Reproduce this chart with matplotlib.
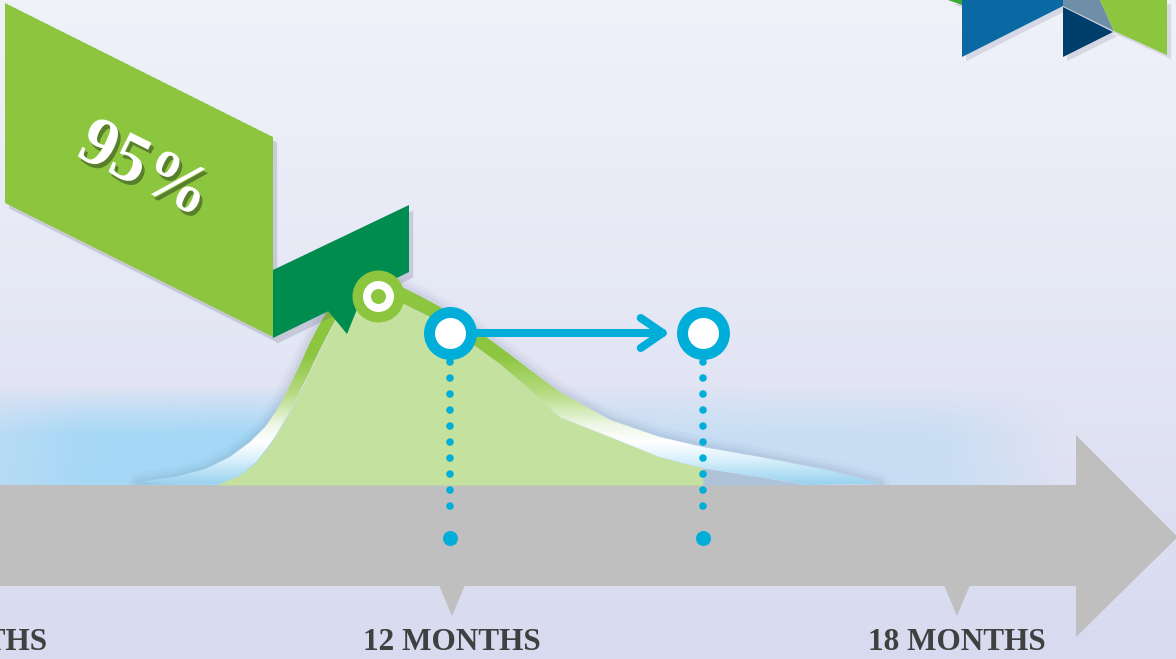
import numpy as np
import matplotlib
matplotlib.use("Agg")
import matplotlib.pyplot as plt
from matplotlib.patches import Polygon
from matplotlib.transforms import Affine2D
from matplotlib.colors import to_rgb
import matplotlib.patheffects as pe

# ---------------- data ----------------
tick_months = [6, 12, 18]
label_months = [6.23, 12.0, 18.0]
tick_labels = ["6 MONTHS", "12 MONTHS", "18 MONTHS"]

peak_month = 11.12
peak_value = 94.5
peak_label = "95%"

marker_months = [11.98, 14.98]
marker_value = 76.0
fill_end_month = 14.98

# upper (outer) edge of the curve ribbon: month, level
outer_m = [8.28, 8.71, 9.07, 9.36, 9.60, 9.78, 9.92, 10.03, 10.13, 10.22, 10.31,
           10.41, 10.52, 10.63, 10.79, 10.97, 11.14, 11.38, 11.62, 11.86, 12.21,
           12.57, 12.93, 13.28, 13.88, 14.47, 14.98, 15.66, 16.46, 17.09]
outer_v = [1.5, 4, 8, 14, 21.5, 29, 37.5, 46, 54.5, 62.5, 71,
           79, 87.5, 94.5, 99, 101.5, 102.5, 99.5, 94.5, 89, 80,
           69, 57.5, 46.5, 32.5, 24, 19, 14, 7.5, 1]
# lower (inner) edge of the ribbon = top of the filled area
inner_m = [9.22, 9.48, 9.67, 9.81, 9.91, 10.00, 10.10, 10.19, 10.29, 10.37, 10.47,
           10.57, 10.67, 10.79, 10.97, 11.14, 11.38, 11.62, 11.86, 12.21, 12.57,
           12.93, 13.28, 13.88, 14.47, 14.98, 15.66, 16.25]
inner_v = [0.5, 5, 11.5, 19, 25, 31.5, 39, 47, 55, 62.5, 71,
           79, 86.5, 91.5, 94, 94.5, 91.5, 86.5, 81.5, 71.5, 60.5,
           47.5, 34, 24, 14, 8.5, 4, 0]

# ---------------- layout helpers ----------------
W, H = 1176, 659
PPM = 505 / 6.0          # pixels per month
X0 = 12 - 452 / PPM
X1 = 12 + (W - 452) / PPM
Y0 = (485 - H) / 2.0
Y1 = 485 / 2.0

def lv(py):
    return (485 - py) / 2.0

def mo(px):
    return 12 + (px - 452) / PPM

GREEN = "#8cc63f"
DKGREEN = "#008b4f"
BLUE = "#00aed9"
FILL = "#c5e19f"
GREY = "#bfbfbf"

fig = plt.figure(figsize=(W / 100, H / 100), dpi=100)
ax = fig.add_axes([0, 0, 1, 1])
ax.set_axis_off()
pix = Affine2D().scale(1, -1).translate(0, H)

# background gradient
rows = np.linspace(0, 1, 200)[:, None]
top = np.array(to_rgb("#f0f2fa"))
bot = np.array(to_rgb("#d8dbef"))
bg = (bot * (1 - rows) + top * rows)[:, None, :].repeat(2, axis=1)
ax.imshow(bg, extent=[X0, X1, Y0, Y1], origin="lower", aspect="auto", zorder=0,
          interpolation="bicubic")

# light blue glow behind the curve
gx = np.linspace(X0, X1, 400)
gy = np.linspace(0, 50, 120)
ax_prof = np.interp(gx, [X0, mo(80), mo(250), mo(600), mo(950), mo(1060), X1],
                    [0.65, 0.95, 1.0, 0.45, 0.35, 0.0, 0.0])
ay_prof = np.interp(gy, [0, 25, 37, 50], [1.0, 1.0, 0.55, 0.0])
alpha = ay_prof[:, None] * ax_prof[None, :]
glow = np.zeros((len(gy), len(gx), 4))
glow[..., :3] = to_rgb("#a3d8f7")
glow[..., 3] = alpha
ax.imshow(glow, extent=[X0, X1, 0, 50], origin="lower", aspect="auto", zorder=1,
          interpolation="bilinear")

# soft shadow along the ribbon
for lw, a in [(20, 0.035), (13, 0.05), (7, 0.07)]:
    ax.plot(outer_m, outer_v, color="#5d6b8c", lw=lw * 0.72, alpha=a, zorder=2,
            solid_capstyle="round")

# timeline band and arrowhead
band_end = mo(1076)
ax.add_patch(Polygon([(X0 - 1, 0), (band_end, 0), (band_end, lv(586)), (X0 - 1, lv(586))],
                     closed=True, facecolor=GREY, edgecolor="none", zorder=3))
ax.add_patch(Polygon([(band_end, lv(435)), (X1 + 0.02, lv(537)), (band_end, lv(637))],
                     closed=True, facecolor=GREY, edgecolor="none", zorder=3))
for m in tick_months:
    hw = 13 / PPM
    ax.add_patch(Polygon([(m - hw, lv(585)), (m + hw, lv(585)), (m, lv(616))],
                         closed=True, facecolor=GREY, edgecolor="none", zorder=3))
for m, t in zip(label_months, tick_labels):
    ax.text(m, lv(643), t, ha="center", va="center", fontsize=22.5,
            family="Liberation Serif", fontweight="bold", color="#404040",
            zorder=9, clip_on=False)

# filled area under the curve
im_ = np.array(inner_m)
iv_ = np.array(inner_v)
k = im_ <= fill_end_month + 1e-9
ax.fill_between(im_[k], iv_[k], 0, color=FILL, lw=0, zorder=4)
k2 = im_ >= fill_end_month - 1e-9
ax.fill_between(im_[k2], iv_[k2], 0, color="#aec3d8", lw=0, zorder=4)

# ribbon with vertical gradient
ribbon_xy = list(zip(outer_m, outer_v)) + list(zip(inner_m[::-1], inner_v[::-1]))
ribbon = Polygon(ribbon_xy, closed=True, transform=ax.transData)
vv = np.linspace(lv(487), lv(265), 300)
pyv = 485 - 2 * vv
stops_py = [265, 355, 395, 425, 442, 460, 487]
stops_c = [GREEN, GREEN, "#b9dc86", "#eef7e6", "#ffffff", "#d9f0fb", "#92cfee"]
cols = np.array([to_rgb(c) for c in stops_c])
grad = np.stack([np.interp(pyv, stops_py, cols[:, i]) for i in range(3)], axis=-1)
grad = grad[:, None, :].repeat(2, axis=1)
rim = ax.imshow(grad, extent=[X0, X1, lv(487), lv(265)], origin="lower",
                aspect="auto", zorder=5, interpolation="bilinear")
rim.set_clip_path(ribbon)

# banner (pixel layout)
shadow = [pe.SimplePatchShadow(offset=(3, -4), shadow_rgbFace="#4a5070", alpha=0.2), pe.Normal()]
ban = Polygon([(5, 3), (273, 137), (273, 337), (5, 203)], closed=True, transform=pix,
              facecolor=GREEN, edgecolor="none", zorder=6, path_effects=shadow)
ax.add_patch(ban)
ax.add_patch(Polygon([(273, 270), (409, 205), (409, 272), (273, 338)], closed=True,
                     transform=pix, facecolor=DKGREEN, edgecolor="none", zorder=6,
                     path_effects=shadow))
ax.add_patch(Polygon([(324, 306), (366, 287), (347, 334)], closed=True,
                     transform=pix, facecolor=DKGREEN, edgecolor="none", zorder=6))
ax.text(144, 171, peak_label, transform=pix, rotation=-26.6, rotation_mode="anchor",
        ha="center", va="center", fontsize=50, family="Liberation Serif",
        fontweight="bold", color="white", zorder=7,
        path_effects=[pe.withSimplePatchShadow(offset=(2, -3), shadow_rgbFace="#2a3a1a", alpha=0.5)])

# logo pieces, top right
logo = [([(948, 0), (962, 0), (962, 5)], "#3aaa35"),
        ([(962, 0), (1063, 0), (1063, 6), (962, 57)], "#0a69a3"),
        ([(1063, 0), (1100, 0), (1114, 31), (1063, 6)], "#6f8fa8"),
        ([(1063, 7), (1113, 32), (1063, 57)], "#003e6c"),
        ([(1100, 0), (1167, 0), (1167, 55), (1114, 31)], GREEN)]
for xy, c in logo:
    ax.add_patch(Polygon(xy, closed=True, transform=pix, facecolor=c, edgecolor="none",
                         zorder=6,
                         path_effects=[pe.SimplePatchShadow(offset=(3, -3), shadow_rgbFace="#4a5070", alpha=0.15), pe.Normal()]))

# dotted drop lines
for m in marker_months:
    ax.plot([m, m], [lv(362), lv(522)], color=BLUE, lw=7.6 * 0.72,
            dashes=(0.001, 16 / 7.6), dash_capstyle="round", zorder=8)
ax.scatter(marker_months, [lv(538)] * len(marker_months), s=(15 * 0.72) ** 2,
           color=BLUE, lw=0, zorder=8)

# arrow between the markers
ax.annotate("", xy=(marker_months[1], marker_value), xytext=(marker_months[0], marker_value),
            arrowprops=dict(arrowstyle="->,head_length=15.8,head_width=10.8",
                            mutation_scale=1, color=BLUE, lw=8 * 0.72,
                            shrinkA=18, shrinkB=23.8, capstyle="round", joinstyle="round"),
            zorder=8)

# markers
ax.scatter(marker_months, [marker_value] * 2, s=(53 * 0.72) ** 2, color=BLUE, lw=0, zorder=9)
ax.scatter(marker_months, [marker_value] * 2, s=(31 * 0.72) ** 2, color="white", lw=0, zorder=10)
ax.scatter([peak_month], [peak_value], s=(52 * 0.72) ** 2, color=GREEN, lw=0, zorder=9)
ax.scatter([peak_month], [peak_value], s=(31 * 0.72) ** 2, color="white", lw=0, zorder=10)
ax.scatter([peak_month], [peak_value], s=(15 * 0.72) ** 2, color=GREEN, lw=0, zorder=11)

ax.set_xlim(X0, X1)
ax.set_ylim(Y0, Y1)
fig.savefig("out.png", dpi=100)
